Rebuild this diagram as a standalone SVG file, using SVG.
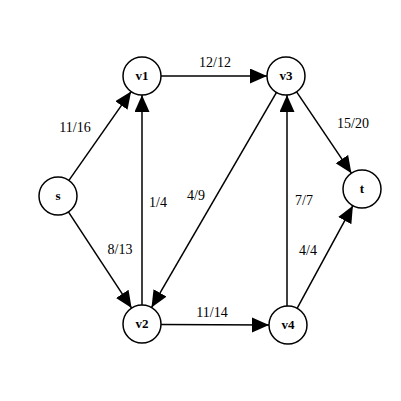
<svg xmlns="http://www.w3.org/2000/svg" width="401" height="401" viewBox="0 0 401 401">
<style>
.node circle{fill:#fff;stroke:#000;stroke-width:1.5}
.node text{font-family:"Liberation Serif",serif;font-weight:bold;font-size:13px;text-anchor:middle}
.edges line{stroke:#000;stroke-width:1.5;marker-end:url(#arr)}
.lbl{font-family:"Liberation Serif",serif;font-size:14px;text-anchor:middle;fill:#000}
</style>
<defs>
<marker id="arr" markerUnits="userSpaceOnUse" markerWidth="18" markerHeight="16" refX="17" refY="7.5" orient="auto">
<path d="M0,0 L17,7.5 L0,15 z" fill="#000"/>
</marker>
</defs>
<rect width="401" height="401" fill="#fff"/>
<g class="edges">
<line x1="68.9" y1="180.4" x2="131.1" y2="91.6"/>
<line x1="161" y1="76" x2="267" y2="76"/>
<line x1="68.4" y1="211.9" x2="131.6" y2="308.1"/>
<line x1="142" y1="305" x2="142" y2="95"/>
<line x1="276.5" y1="92.4" x2="151.5" y2="307.6"/>
<line x1="296.6" y1="91.8" x2="351.4" y2="173.2"/>
<line x1="287" y1="306" x2="287" y2="95"/>
<line x1="297.1" y1="308.3" x2="352.9" y2="205.7"/>
<line x1="161" y1="324.5" x2="269" y2="325"/>
</g>
<g class="labels">
<text class="lbl" x="75" y="132">11/16</text>
<text class="lbl" x="215" y="67">12/12</text>
<text class="lbl" x="158" y="207">1/4</text>
<text class="lbl" x="196" y="200">4/9</text>
<text class="lbl" x="120" y="254">8/13</text>
<text class="lbl" x="212" y="317">11/14</text>
<text class="lbl" x="353" y="128">15/20</text>
<text class="lbl" x="304" y="205">7/7</text>
<text class="lbl" x="308" y="255">4/4</text>
</g>
<g id="s" class="node"><circle cx="58" cy="196" r="19"/><text x="58" y="200">s</text></g>
<g id="v1" class="node"><circle cx="142" cy="76" r="19"/><text x="142" y="80">v1</text></g>
<g id="v3" class="node"><circle cx="286" cy="76" r="19"/><text x="286" y="80">v3</text></g>
<g id="t" class="node"><circle cx="362" cy="189" r="19"/><text x="362" y="193">t</text></g>
<g id="v2" class="node"><circle cx="142" cy="324" r="19"/><text x="142" y="328">v2</text></g>
<g id="v4" class="node"><circle cx="288" cy="325" r="19"/><text x="288" y="329">v4</text></g>
</svg>
